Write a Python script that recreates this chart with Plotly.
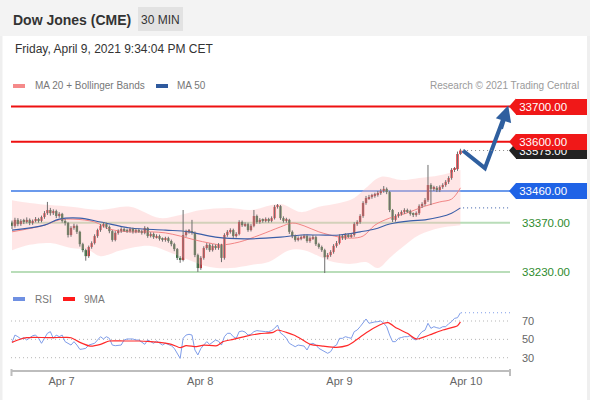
import plotly.graph_objects as go

# ---------------- data ----------------
open_ = [33370,33361,33378,33366,33375,33372,33378,33369,33375,33380,
 33375,33386,33397,33406,33397,33403,33389,33395,33375,33369,
 33335,33355,33361,33344,33309,33292,33275,33301,33312,33332,
 33349,33361,33366,33358,33346,33321,33341,33346,33352,33349,
 33346,33352,33344,33349,33346,33341,33355,33332,33338,33329,
 33332,33324,33321,33326,33318,33309,33295,33270,33264,33335,
 33344,33346,33341,33278,33241,33270,33298,33307,33292,33304,
 33298,33307,33270,33335,33344,33349,33332,33338,33372,33363,
 33366,33349,33361,33389,33372,33378,33375,33380,33375,33383,
 33415,33417,33383,33375,33378,33344,33332,33321,33326,33329,
 33332,33318,33326,33329,33309,33301,33292,33272,33278,33287,
 33304,33312,33332,33326,33335,33332,33335,33366,33372,33389,
 33426,33440,33443,33446,33449,33454,33460,33466,33457,33406,
 33378,33389,33395,33400,33406,33403,33395,33392,33397,33417,
 33423,33434,33477,33466,33469,33463,33471,33477,33486,33497,
 33520,33522,33565]
high = [33376,33384,33383,33380,33381,33385,33382,33379,33386,33384,
 33390,33403,33429,33412,33408,33407,33400,33398,33380,33372,
 33360,33367,33365,33347,33313,33296,33305,33317,33337,33353,
 33366,33372,33370,33362,33349,33346,33351,33357,33356,33353,
 33357,33356,33354,33353,33350,33360,33358,33343,33342,33337,
 33336,33328,33330,33330,33322,33313,33298,33275,33406,33350,
 33352,33378,33345,33282,33275,33303,33312,33311,33309,33308,
 33312,33310,33340,33349,33354,33353,33343,33377,33376,33371,
 33370,33366,33406,33393,33383,33382,33385,33384,33388,33420,
 33423,33420,33388,33384,33381,33348,33336,33331,33334,33337,
 33336,33331,33335,33333,33313,33305,33296,33284,33292,33309,
 33318,33337,33336,33340,33339,33340,33371,33377,33394,33431,
 33446,33449,33452,33455,33460,33466,33474,33470,33460,33409,
 33394,33400,33405,33411,33410,33407,33399,33402,33422,33428,
 33440,33534,33482,33475,33474,33476,33482,33491,33502,33525,
 33528,33572,33580]
low = [33352,33356,33360,33361,33366,33368,33363,33364,33371,33370,
 33371,33381,33392,33390,33392,33383,33384,33370,33362,33328,
 33330,33350,33338,33302,33286,33262,33270,33296,33308,33327,
 33344,33356,33352,33340,33316,33317,33336,33341,33344,33341,
 33342,33339,33340,33341,33336,33337,33327,33328,33324,33325,
 33319,33316,33316,33313,33303,33289,33264,33256,33260,33330,
 33339,33336,33272,33230,33236,33265,33293,33287,33288,33293,
 33293,33258,33265,33330,33339,33327,33328,33334,33358,33358,
 33344,33345,33357,33367,33367,33370,33371,33370,33371,33379,
 33410,33378,33370,33370,33338,33326,33316,33317,33320,33324,
 33313,33313,33321,33304,33296,33287,33227,33266,33273,33282,
 33299,33308,33321,33321,33327,33327,33330,33361,33367,33384,
 33421,33435,33438,33441,33444,33449,33455,33451,33400,33372,
 33373,33384,33390,33395,33398,33390,33386,33387,33392,33412,
 33418,33429,33420,33460,33457,33457,33466,33472,33480,33492,
 33514,33517,33562]
close_ = [33361,33378,33366,33375,33372,33378,33369,33375,33380,33375,
 33386,33397,33406,33397,33403,33389,33395,33375,33369,33335,
 33355,33361,33344,33309,33292,33275,33301,33312,33332,33349,
 33361,33366,33358,33346,33321,33341,33346,33352,33349,33346,
 33352,33344,33349,33346,33341,33355,33332,33338,33329,33332,
 33324,33321,33326,33318,33309,33295,33270,33264,33335,33344,
 33346,33341,33278,33241,33270,33298,33307,33292,33304,33298,
 33307,33270,33335,33344,33349,33332,33338,33372,33363,33366,
 33349,33361,33389,33372,33378,33375,33380,33375,33383,33415,
 33417,33383,33375,33378,33344,33332,33321,33326,33329,33332,
 33318,33326,33329,33309,33301,33292,33272,33278,33287,33304,
 33312,33332,33326,33335,33332,33335,33366,33372,33389,33426,
 33440,33443,33446,33449,33454,33460,33466,33457,33406,33378,
 33389,33395,33400,33406,33403,33395,33392,33397,33417,33423,
 33434,33477,33466,33469,33463,33471,33477,33486,33497,33520,
 33522,33565,33575]

bb_up_idx = [0, 6, 13, 20, 30, 40, 50, 57, 64, 74, 81, 91, 98, 104, 111, 116, 120, 125, 132, 138, 145, 152]
bb_up_val = [33434, 33426, 33420, 33415, 33406, 33415, 33383, 33392, 33406, 33412, 33406, 33423,
             33400, 33415, 33426, 33440, 33469, 33500, 33491, 33497, 33505, 33520]
bb_lo_idx = [0, 6, 13, 20, 26, 30, 37, 47, 54, 60, 67, 74, 81, 87, 94, 99, 104, 109, 115, 120,
             124, 128, 132, 138, 145, 152]
bb_lo_val = [33292, 33307, 33312, 33298, 33292, 33275, 33292, 33304, 33284, 33264, 33244, 33241,
             33250, 33258, 33292, 33292, 33275, 33258, 33253, 33258, 33241, 33270, 33298, 33335,
             33355, 33363]
ma20_idx = [0, 11, 16, 21, 28, 33, 40, 47, 52, 57, 62, 67, 71, 77, 84, 91, 95, 99, 104, 111, 115,
            119, 123, 128, 133, 140, 145, 149, 152]
ma20_val = [33344, 33363, 33378, 33380, 33372, 33352, 33344, 33344, 33341, 33332, 33321, 33312,
            33307, 33315, 33335, 33358, 33369, 33361, 33344, 33329, 33326, 33332, 33363, 33383,
            33395, 33417, 33429, 33437, 33469]
ma50_idx = [0, 11, 16, 23, 30, 40, 52, 60, 69, 79, 91, 98, 104, 111, 118, 123, 128, 135, 140, 145,
            149, 152]
ma50_val = [33349, 33363, 33380, 33383, 33372, 33355, 33349, 33344, 33329, 33324, 33329, 33335,
            33335, 33335, 33344, 33352, 33366, 33375, 33378, 33386, 33397, 33412]

rsi_idx = [0,1,2,3,4,5,7,8,9,10,11,12,13,14,15,16,17,18,20,21,22,23,24,25,26,28,29,30,31,32,33,34,35,
           37,38,39,40,41,42,43,45,46,47,48,49,50,51,52,54,55,56,57,58,59,60,61,62,63,64,65,66,67,68,
           69,70,71,72,73,74,75,76,77,78,79,80,81,82,83,84,85,86,87,88,89,90,91,92,93,94,95,96,97,98,
           99,100,101,102,103,104,105,106,107,108,109,110,111,112,113,114,115,116,117,118,119,120,121,
           122,123,124,125,126,127,128,129,130,131,132,133,134,135,136,137,138,139,140,141,142,143,144,
           145,146,147,148,149,150,151,152]
rsi_val = [46.8,54.7,52.9,50.4,51.8,49.3,54.0,54.7,51.1,45.7,51.1,56.6,58.4,51.1,54.7,52.9,54.7,47.5,
           43.8,47.5,43.8,39.1,39.5,40.2,43.8,45.7,49.3,52.9,50.4,52.9,51.1,43.8,43.1,
           43.8,49.3,50.4,50.4,50.4,49.3,49.3,44.6,49.3,47.5,45.7,48.2,45.7,43.8,45.7,43.1,40.2,34.8,
           29.3,51.1,54.7,55.5,54.7,38.4,33.0,40.0,43.8,47.5,44.5,47.0,
           49.3,48.0,43.8,52.9,56.6,56.6,52.9,51.1,58.4,59.1,58.0,54.7,55.5,58.4,59.5,59.1,58.4,58.4,
           58.4,59.5,62.0,65.6,57.0,54.7,51.1,45.7,43.8,42.0,43.8,43.5,
           42.7,38.4,44.6,45.7,43.8,40.2,38.4,36.0,34.8,36.6,42.0,43.8,51.1,51.1,52.9,52.0,51.1,58.4,
           60.2,63.8,67.5,72.2,67.5,
           68.5,69.0,69.3,70.0,67.5,63.8,54.7,47.5,47.5,51.1,52.0,52.9,52.9,54.0,50.4,49.3,54.7,58.4,
           60.0,67.5,62.0,63.8,62.7,
           62.0,63.8,63.8,67.0,69.3,72.9,73.6,79.0]
ma9_idx = [0, 3, 5, 7, 13, 18.5, 20, 23, 26.5, 30, 33, 38, 43, 47, 50, 54, 57, 59, 62.5, 65, 69.5,
           71.5, 75, 79.5, 84, 88.5, 90, 93, 95.5, 98, 101, 105.5, 110, 113.5, 115.5, 119, 122.5,
           126, 127.5, 130.5, 134, 136.5, 137.5, 141.5, 146, 151, 152]
ma9_val = [46.7, 50.4, 51.8, 52.2, 51.8, 52.2, 51.8, 46.7, 42.7, 44.6, 48.2, 48.2, 48.2, 47.5, 46.7,
           44.6, 40.9, 43.1, 42.0, 43.8, 43.1, 47.5, 50.0, 53.6, 56.2, 57.6, 60.2, 57.6, 54.7, 50.4,
           44.6, 42.7, 41.3, 43.1, 46.7, 54.7, 62.0, 67.5, 68.2, 62.0, 56.6, 51.1, 50.4, 54.7, 60.2,
           64.9, 69.0]

levels_res = [33700, 33600]
level_pivot = 33460
levels_sup = [33370, 33230]
last_price = 33575
ma50_last = 33412
rsi_last = 79.0
proj_idx = [152.8, 160.3, 166.8]
proj_val = [33575, 33525, 33671]
arrow_tip = (168.2, 33703)
rsi_levels = [70, 50, 30]
tick_pos = [16.8, 63.8, 111.0, 153.9]
tick_txt = ["Apr 7", "Apr 8", "Apr 9", "Apr 10"]

# ---------------- geometry ----------------
W, H = 590, 400
ML, MR, MT, MB = 11, 80, 0, 30
PW = W - ML - MR
PH = H - MT - MB

def px_x(px):
    return (px - ML) / PW

def px_y(py):
    return (H - MB - py) / PH

PRICE_RANGE = [33201.5, 33732.7]
PPX = (PRICE_RANGE[1] - PRICE_RANGE[0]) / (282 - 95)
RSI_RANGE = [16.6, 92.9]
X_RANGE = [-0.34, 168.8]
FONT = "Liberation Sans, Arial, sans-serif"

RED = "#e3242b"
GREEN = "#2b7330"

N = len(close_)
idx = list(range(N))

fig = go.Figure()

# Bollinger band fill
fig.add_trace(go.Scatter(x=bb_up_idx, y=bb_up_val, mode="lines", line=dict(width=0, shape="spline"),
                         hoverinfo="skip", xaxis="x", yaxis="y"))
fig.add_trace(go.Scatter(x=bb_lo_idx, y=bb_lo_val, mode="lines", line=dict(width=0, shape="spline"),
                         fill="tonexty", fillcolor="rgba(255,190,190,0.38)", hoverinfo="skip",
                         xaxis="x", yaxis="y"))
fig.add_trace(go.Scatter(x=ma20_idx, y=ma20_val, mode="lines",
                         line=dict(color="#f28585", width=1, shape="spline"), xaxis="x", yaxis="y"))
fig.add_trace(go.Scatter(x=ma50_idx, y=ma50_val, mode="lines",
                         line=dict(color="#3a5ea8", width=1.1, shape="spline"), xaxis="x", yaxis="y"))

# wicks
wx, wy = [], []
for i in idx:
    wx += [i, i, None]
    wy += [low[i], high[i], None]
fig.add_trace(go.Scatter(x=wx, y=wy, mode="lines", line=dict(color="#6e6e6e", width=1),
                         hoverinfo="skip", xaxis="x", yaxis="y"))
# bodies
bases, hts, cols = [], [], []
for i in idx:
    lo_b = min(open_[i], close_[i])
    h_b = abs(close_[i] - open_[i])
    bases.append(lo_b)
    hts.append(max(h_b, 3))
    cols.append(RED if close_[i] > open_[i] else GREEN)
fig.add_trace(go.Bar(x=idx, y=hts, base=bases, width=0.82, marker=dict(color=cols, line=dict(width=0)),
                     xaxis="x", yaxis="y"))

# projection
fig.add_trace(go.Scatter(x=proj_idx, y=proj_val, mode="lines", line=dict(color="#2f5f9f", width=4),
                         xaxis="x", yaxis="y"))

# RSI
fig.add_trace(go.Scatter(x=rsi_idx, y=rsi_val, mode="lines", line=dict(color="#7f9de9", width=1),
                         xaxis="x", yaxis="y2"))
fig.add_trace(go.Scatter(x=ma9_idx, y=ma9_val, mode="lines",
                         line=dict(color="#ff2a2a", width=1.2, shape="spline", smoothing=0.6),
                         xaxis="x", yaxis="y2"))

shapes = []
ann = []

# header
shapes.append(dict(type="rect", xref="paper", yref="paper", x0=px_x(0), x1=px_x(590),
                   y0=px_y(36), y1=px_y(0), fillcolor="#f3f3f3", line=dict(width=0), layer="below"))
shapes.append(dict(type="rect", xref="paper", yref="paper", x0=px_x(0), x1=px_x(2.5),
                   y0=px_y(400), y1=px_y(36), fillcolor="#efefef", line=dict(width=0), layer="below"))
shapes.append(dict(type="rect", xref="paper", yref="paper", x0=px_x(587), x1=px_x(590),
                   y0=px_y(400), y1=px_y(36), fillcolor="#efefef", line=dict(width=0), layer="below"))
shapes.append(dict(type="rect", xref="paper", yref="paper", x0=px_x(138), x1=px_x(183),
                   y0=px_y(31), y1=px_y(7), fillcolor="#e2e2e2", line=dict(width=0), layer="below"))
ann.append(dict(text="<b>Dow Jones (CME)</b>", xref="paper", yref="paper", x=px_x(11), y=px_y(19.5),
                xanchor="left", yanchor="middle", showarrow=False,
                font=dict(family=FONT, size=14, color="#333333")))
ann.append(dict(text="30 MIN", xref="paper", yref="paper", x=px_x(160.5), y=px_y(19.5),
                xanchor="center", yanchor="middle", showarrow=False,
                font=dict(family=FONT, size=12, color="#333333")))
ann.append(dict(text="Friday, April 9, 2021 9:34:04 PM CET", xref="paper", yref="paper", x=px_x(12.5),
                y=px_y(49), xanchor="left", yanchor="middle", showarrow=False,
                font=dict(family=FONT, size=12, color="#333333")))

# legends
def swatch(x0, y, color):
    shapes.append(dict(type="rect", xref="paper", yref="paper", x0=px_x(x0), x1=px_x(x0 + 12),
                       y0=px_y(y + 2), y1=px_y(y - 2), fillcolor=color, line=dict(width=0)))

def label(text, x, y, size=10, color="#777777", anchor="left"):
    ann.append(dict(text=text, xref="paper", yref="paper", x=px_x(x), y=px_y(y), xanchor=anchor,
                    yanchor="middle", showarrow=False, font=dict(family=FONT, size=size, color=color)))

swatch(13, 86, "#f58a8a")
label("MA 20 + Bollinger Bands", 32.5, 86)
swatch(156, 86, "#2f5a9e")
label("MA 50", 174.5, 86)
label("Research © 2021 Trading Central", 581, 86, color="#9a9a9a", anchor="right")
swatch(13, 299, "#6f90e2")
label("RSI", 32.5, 299)
swatch(63, 299, "#ff1a1a")
label("9MA", 81.5, 299)

# level lines
for v in levels_res:
    shapes.append(dict(type="line", xref="paper", yref="y", x0=0, x1=1, y0=v, y1=v,
                       line=dict(color="#ee1111", width=2), layer="below"))
shapes.append(dict(type="line", xref="paper", yref="y", x0=0, x1=1, y0=level_pivot, y1=level_pivot,
                   line=dict(color="#3a78e6", width=1.5), layer="below"))
for v in levels_sup:
    shapes.append(dict(type="line", xref="paper", yref="y", x0=0, x1=1, y0=v, y1=v,
                       line=dict(color="#b9ddb9", width=2), layer="below"))

# dotted extensions
shapes.append(dict(type="line", xref="x", yref="y", x0=152.9, x1=X_RANGE[1], y0=last_price, y1=last_price,
                   line=dict(color="#888888", width=1, dash="1px,3px")))
shapes.append(dict(type="line", xref="x", yref="y", x0=152.9, x1=X_RANGE[1], y0=ma50_last, y1=ma50_last,
                   line=dict(color="#3a5ea8", width=1, dash="1px,3px")))
shapes.append(dict(type="line", xref="x", yref="y2", x0=152.2, x1=X_RANGE[1], y0=rsi_last, y1=rsi_last,
                   line=dict(color="#7f9de9", width=1, dash="1px,3px")))
for v in rsi_levels:
    shapes.append(dict(type="line", xref="paper", yref="y2", x0=0, x1=1, y0=v, y1=v,
                       line=dict(color="#b5b5b5", width=1, dash="1px,3px"), layer="below"))
    ann.append(dict(text=str(v), xref="paper", yref="y2", x=px_x(520), y=v, xanchor="left",
                    yanchor="middle", showarrow=False, font=dict(family=FONT, size=11, color="#666666")))

# x axis end ticks
for xp in (11.5, 510):
    shapes.append(dict(type="line", xref="paper", yref="paper", x0=px_x(xp), x1=px_x(xp),
                       y0=px_y(369), y1=px_y(376), line=dict(color="#bdbdbd", width=2)))

# right tags
def tag(v, text, color):
    dv = 8 * PPX
    shapes.append(dict(type="path", xref="paper", yref="y",
                       path=f"M {px_x(509)},{v} L {px_x(516)},{v + dv} L {px_x(516)},{v - dv} Z",
                       fillcolor=color, line=dict(width=0)))
    ann.append(dict(text="\u00a0" + text, xref="paper", yref="y", x=px_x(515.5), y=v, xanchor="left",
                    yanchor="middle", showarrow=False, width=71, height=16, align="left",
                    bgcolor=color, borderpad=0, borderwidth=0,
                    font=dict(family=FONT, size=11.5, color="white")))

tag(last_price, f"{last_price:.2f}", "#222222")
tag(levels_res[1], f"{levels_res[1]:.2f}", "#f01818")
tag(levels_res[0], f"{levels_res[0]:.2f}", "#f01818")
tag(level_pivot, f"{level_pivot:.2f}", "#1f63e6")
for v in levels_sup:
    ann.append(dict(text=f"{v:.2f}", xref="paper", yref="y", x=px_x(519.5), y=v, xanchor="left",
                    yanchor="middle", showarrow=False, font=dict(family=FONT, size=11.5, color="#2e8b2e")))

# projection arrow head
ann.append(dict(text="", x=arrow_tip[0], y=arrow_tip[1], xref="x", yref="y",
                ax=165.6, ay=33633, axref="x", ayref="y", showarrow=True, arrowhead=2,
                arrowsize=0.8, arrowwidth=4, arrowcolor="#2f5f9f", standoff=0))

fig.update_layout(
    width=W, height=H, margin=dict(l=ML, r=MR, t=MT, b=MB),
    paper_bgcolor="white", plot_bgcolor="rgba(0,0,0,0)",
    showlegend=False, barmode="overlay",
    font=dict(family=FONT),
    xaxis=dict(domain=[0, 1], range=X_RANGE, anchor="y2", showgrid=False, zeroline=False,
               showline=True, linecolor="#bdbdbd", linewidth=2, ticks="",
               tickvals=tick_pos, ticktext=tick_txt, tickfont=dict(family=FONT, size=11, color="#666666"),
               fixedrange=True),
    yaxis=dict(domain=[px_y(282), px_y(95)], range=PRICE_RANGE, visible=False, anchor="x", fixedrange=True),
    yaxis2=dict(domain=[px_y(370), px_y(300)], range=RSI_RANGE, visible=False, anchor="x", fixedrange=True),
    shapes=shapes, annotations=ann,
)

fig.write_html("out.html", config={"displayModeBar": False},
               post_script="document.body.style.margin='0';")
